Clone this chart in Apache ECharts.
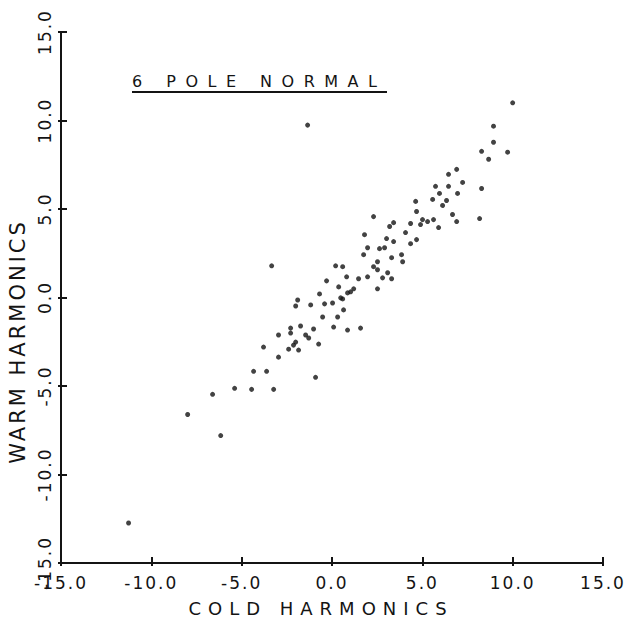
<!DOCTYPE html>
<html>
<head>
<meta charset="utf-8">
<script src="https://cdn.jsdelivr.net/npm/echarts@6/dist/echarts.min.js"></script>
<style>
  html, body { margin: 0; padding: 0; background: #fff; }
  #chart { width: 636px; height: 618px; }
  /* hand-lettered look: widely spaced capitals */
  #chart text[style*="17px"] { letter-spacing: 2px; }
  #chart text[style*="18px"] { letter-spacing: 7px; }
  #chart text[style*="21px"] { letter-spacing: 3px; }
  #chart text[style*="16px"] { letter-spacing: 9.5px; }
</style>
</head>
<body>
<div id="chart"></div>
<script>
// ---- data ----
const titleText = '6 POLE NORMAL';
const xName = 'COLD HARMONICS';
const yName = 'WARM HARMONICS';
const axisMin = -15, axisMax = 15, axisStep = 5;

const coldHarmonics = [
  10.0, 8.94, 8.94, 8.28, 9.72, 8.67, 6.90, 6.45, 7.23, 5.73,
  6.45, 8.28, 6.95, 5.95, 5.57, 6.34, 6.12, 4.63, 4.68, 6.67,
  8.17, 6.90, 2.30, 3.41, 4.35, 5.01, 5.29, 4.90, 3.19, 4.07,
  1.80, 4.68, 4.35, 3.41, 3.02, 2.91, 2.63, 1.97, 1.75, 3.30,
  3.85, 3.91, 2.52, 2.30, 0.20, 0.59, 2.52, 3.08, 2.80, 1.97,
  1.47, 0.81, -0.30, 1.03, 0.37, 2.52, -0.69, 0.59, 0.03, -0.41,
  -1.18, -1.90, -2.01, 0.64, 0.31, -0.52, 1.58, 0.09, 0.86, -1.74,
  -2.29, -1.02, -2.96, -2.29, -1.46, -1.29, -2.01, -0.74, -2.13, -2.40,
  -1.85, -2.96, -3.79, -4.34, -3.62, -0.91, -5.39, -4.45, -3.23, -6.61,
  -7.99, -6.16, -11.26, -3.34, -1.35, 5.90, 5.62, 1.20, 0.86, 0.48,
  3.30
];
const warmHarmonics = [
  11.0, 9.68, 8.77, 8.26, 8.21, 7.81, 7.24, 6.96, 6.50, 6.28,
  6.28, 6.16, 5.88, 5.88, 5.54, 5.48, 5.20, 5.43, 4.86, 4.69,
  4.46, 4.29, 4.57, 4.23, 4.18, 4.40, 4.29, 4.12, 4.01, 3.67,
  3.55, 3.27, 3.04, 3.16, 3.33, 2.81, 2.76, 2.81, 2.42, 2.25,
  2.42, 2.02, 2.02, 1.74, 1.79, 1.74, 1.57, 1.40, 1.11, 1.17,
  1.06, 1.17, 0.94, 0.32, 0.60, 0.49, 0.20, -0.08, -0.31, -0.36,
  -0.42, -0.14, -0.48, -0.70, -1.10, -1.10, -1.73, -1.67, -1.84, -1.61,
  -1.73, -1.78, -2.12, -2.01, -2.12, -2.29, -2.52, -2.63, -2.69, -2.92,
  -2.97, -3.37, -2.80, -4.17, -4.17, -4.51, -5.13, -5.19, -5.19, -5.47,
  -6.61, -7.80, -12.74, 1.79, 9.74, 3.95, 4.40, 0.49, 0.26, -0.02,
  1.06
];

const points = coldHarmonics.map((x, i) => [x, warmHarmonics[i]]);

const ink = '#141414';
const font = 'DejaVu Sans';
const fmt = v => v.toFixed(1);

const chart = echarts.init(document.getElementById('chart'), null, { renderer: 'svg' });

const gridBox = { left: 61, right: 33, top: 32, bottom: 55, outerBoundsMode: 'none' };

function tickOnlyAxis(gridIndex, position) {
  return {
    type: 'value', min: axisMin, max: axisMax, interval: axisStep,
    gridIndex: gridIndex, position: position,
    axisLine: { show: false, onZero: false },
    axisTick: { show: true, inside: false, length: 3, lineStyle: { color: ink, width: 2 } },
    axisLabel: { show: false },
    splitLine: { show: false }
  };
}

chart.setOption({
  animation: false,
  backgroundColor: '#fff',
  title: {
    text: titleText,
    left: 132,
    top: 73,
    padding: 0,
    textStyle: { fontFamily: font, fontSize: 16, fontWeight: 'normal', color: ink }
  },
  graphic: [{
    type: 'line',
    shape: { x1: 132, y1: 92, x2: 387, y2: 92 },
    style: { stroke: ink, lineWidth: 2 }
  }],
  grid: [Object.assign({}, gridBox), Object.assign({}, gridBox)],
  xAxis: [{
    type: 'value', min: axisMin, max: axisMax, interval: axisStep, position: 'bottom',
    gridIndex: 0,
    name: xName, nameLocation: 'middle', nameGap: 36,
    nameTextStyle: { fontFamily: font, fontSize: 18, color: ink, padding: [0, 22, 0, 0] },
    axisLine: { show: true, onZero: false, lineStyle: { color: ink, width: 2 } },
    axisTick: { show: true, inside: true, length: 6, lineStyle: { color: ink, width: 2 } },
    axisLabel: { fontFamily: font, fontSize: 17, color: ink, margin: 11, formatter: fmt },
    splitLine: { show: false }
  }, tickOnlyAxis(1, 'bottom')],
  yAxis: [{
    type: 'value', min: axisMin, max: axisMax, interval: axisStep, position: 'left',
    gridIndex: 0,
    name: yName, nameLocation: 'middle', nameGap: 27, nameRotate: 90,
    nameTextStyle: { fontFamily: font, fontSize: 21, color: ink, padding: [0, 88, 0, 0] },
    axisLine: { show: true, onZero: false, lineStyle: { color: ink, width: 2 } },
    axisTick: { show: true, inside: true, length: 6, lineStyle: { color: ink, width: 2 } },
    axisLabel: { fontFamily: font, fontSize: 17, color: ink, margin: 8, rotate: 90, formatter: fmt },
    splitLine: { show: false }
  }, tickOnlyAxis(1, 'left')],
  series: [{
    type: 'scatter',
    xAxisIndex: 0,
    yAxisIndex: 0,
    data: points,
    symbol: 'circle',
    symbolSize: 5,
    itemStyle: { color: ink },
    silent: true
  }]
});
</script>
</body>
</html>
